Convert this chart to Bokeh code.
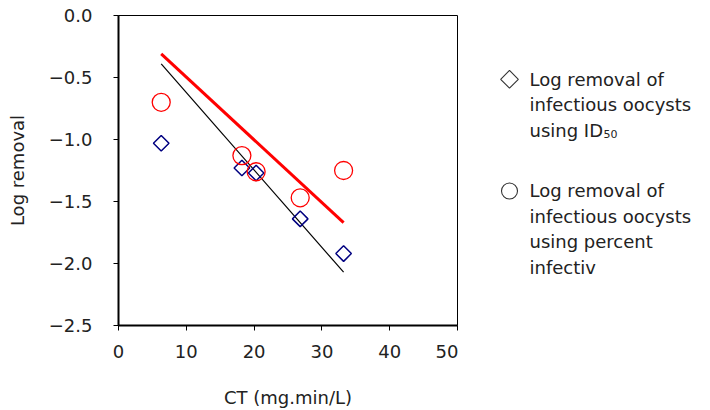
import math
from bokeh.plotting import figure
from bokeh.layouts import row
from bokeh.models import Range1d, FixedTicker
from bokeh.core.properties import value
from bokeh.embed import file_html
from bokeh.resources import INLINE

# ---- data ----
ct = [6.3, 18.2, 20.3, 26.8, 33.2]
log_id50 = [-1.03, -1.23, -1.27, -1.64, -1.92]
log_percent = [-0.70, -1.13, -1.26, -1.47, -1.25]
fit_ct = [6.3, 33.2]
fit_id50 = [-0.39, -2.07]
fit_percent = [-0.31, -1.67]

x_ticks = [0, 10, 20, 30, 40, 50]
y_ticks = [0.0, -0.5, -1.0, -1.5, -2.0, -2.5]
y_tick_labels = ["0.0", "\u22120.5", "\u22121.0", "\u22121.5", "\u22122.0", "\u22122.5"]

legend1 = ["Log removal of", "infectious oocysts", "using ID"]
legend1_sub = "50"
legend2 = ["Log removal of", "infectious oocysts", "using percent", "infectiv"]

FONT = "DejaVu Sans"
FS = "18px"
TXT = "#222222"

H = 410
TOP = 15
FRAME_W = 339
FRAME_H = 311
LEFT = 118
MAIN_W = LEFT + FRAME_W + 1
LEG_W = 702 - MAIN_W

p = figure(width=MAIN_W, height=H, output_backend="svg", toolbar_location=None,
           x_range=Range1d(0, 50), y_range=Range1d(-2.5, 0),
           min_border_left=LEFT, min_border_right=1, min_border_top=TOP,
           min_border_bottom=H - TOP - FRAME_H)
p.grid.visible = False
p.outline_line_color = "black"
p.outline_line_width = 1
p.background_fill_color = "white"
p.border_fill_color = "white"

for ax in (p.xaxis[0], p.yaxis[0]):
    ax.axis_line_color = "black"
    ax.axis_line_width = 2
    ax.major_tick_line_color = "black"
    ax.major_tick_line_width = 1
    ax.major_tick_in = 0
    ax.major_tick_out = 5
    ax.minor_tick_line_color = None
    ax.major_label_text_font = FONT
    ax.major_label_text_font_size = FS
    ax.major_label_text_color = TXT
    ax.axis_label_text_font = FONT
    ax.axis_label_text_font_size = FS
    ax.axis_label_text_font_style = "normal"
    ax.axis_label_text_color = TXT

p.xaxis.ticker = FixedTicker(ticks=x_ticks)
p.yaxis.ticker = FixedTicker(ticks=y_ticks)
p.yaxis.major_label_overrides = {t: l for t, l in zip(y_ticks, y_tick_labels)}
p.xaxis.axis_label = "CT (mg.min/L)"
p.yaxis.axis_label = "Log removal"
p.xaxis.major_label_standoff = 14
p.yaxis.major_label_standoff = 21
p.xaxis.axis_label_standoff = 26
p.yaxis.axis_label_standoff = 18

# fit lines
p.line(fit_ct, fit_percent, line_color="#FF0000", line_width=3)
p.line(fit_ct, fit_id50, line_color="black", line_width=1.2)

# markers
p.scatter(ct, log_id50, marker="square", angle=math.pi / 4, size=11,
          fill_color=None, line_color="#000080", line_width=1.5)
p.scatter(ct, log_percent, marker="circle", size=18,
          fill_color=None, line_color="#FF0000", line_width=1.3)

# ---- legend panel: its frame is aligned with the main frame; y = page pixel row ----
lg = figure(width=LEG_W, height=H, output_backend="svg", toolbar_location=None,
            x_range=Range1d(0, LEG_W), y_range=Range1d(TOP + FRAME_H, TOP),
            min_border_left=0, min_border_right=0, min_border_top=TOP,
            min_border_bottom=H - TOP - FRAME_H, outline_line_color=None)
lg.axis.visible = False
lg.grid.visible = False
lg.background_fill_color = "white"
lg.border_fill_color = "white"

text_x = 529 - MAIN_W
mark_x = 509 - MAIN_W
gap = 25.6
b1 = 79
b2 = 191

lg.scatter([mark_x], [b1], marker="square", angle=math.pi / 4, size=12.5,
           fill_color=None, line_color="#333333", line_width=1.1)
lg.scatter([mark_x], [b2], marker="circle", size=16,
           fill_color=None, line_color="#333333", line_width=1.1)

lg.text([text_x] * len(legend1), [b1 + i * gap for i in range(len(legend1))], text=legend1,
        text_font=value(FONT), text_font_size=FS, text_color=TXT, text_baseline="middle")
lg.text([text_x + 74], [b1 + 2 * gap + 4], text=[legend1_sub],
        text_font=value(FONT), text_font_size="11px", text_color=TXT, text_baseline="middle")
lg.text([text_x] * len(legend2), [b2 + i * gap for i in range(len(legend2))], text=legend2,
        text_font=value(FONT), text_font_size=FS, text_color=TXT, text_baseline="middle")

layout = row(p, lg, spacing=0)
open("out.html", "w").write(file_html(layout, INLINE))
